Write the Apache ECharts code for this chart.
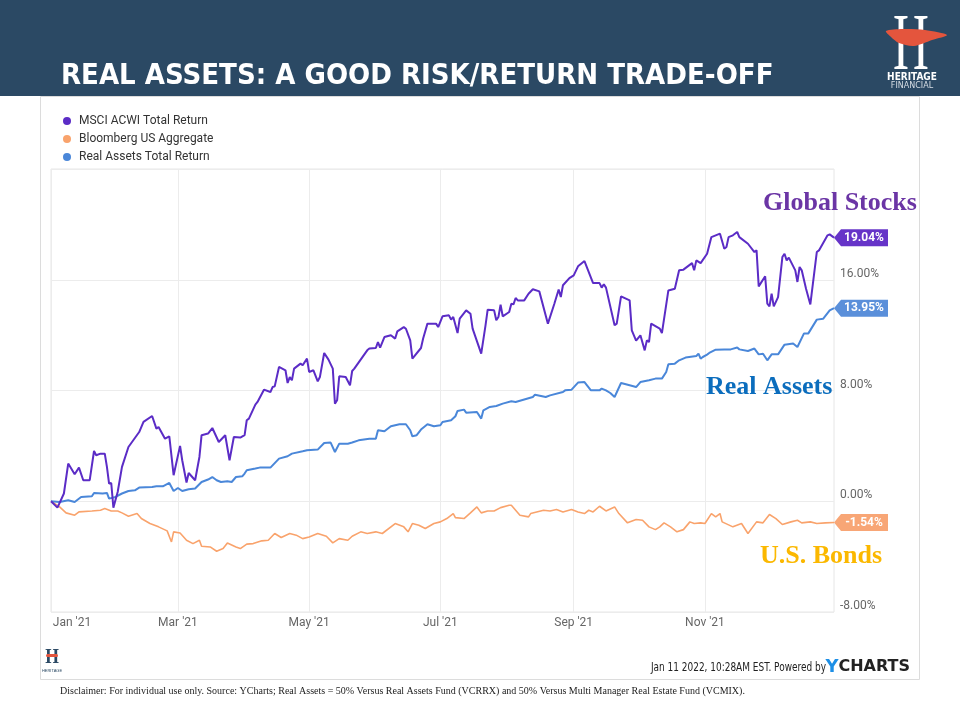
<!DOCTYPE html>
<html><head><meta charset="utf-8">
<script src="https://cdn.jsdelivr.net/npm/echarts@6/dist/echarts.min.js"></script>
<style>html,body{margin:0;padding:0;background:#fff}#c{width:960px;height:720px}</style>
</head><body><div id="c"></div>
<script>
// ---- data (x = days since 2021-01-01, y = cumulative total return %) ----
const seriesNames = ['MSCI ACWI Total Return', 'Bloomberg US Aggregate', 'Real Assets Total Return'];
const xStart = '2021-01-01';
const xEnd = '2021-12-31';
const xTickDates = ['2021-01-01', '2021-03-01', '2021-05-01', '2021-07-01', '2021-09-01', '2021-11-01'];
const xTickLabels = ["Jan '21", "Mar '21", "May '21", "Jul '21", "Sep '21", "Nov '21"];
const yMin = -8, yMax = 24, yStep = 8;

const msciDays = [0,3,6,8,11,13,15,18,20,21,23,25,26,27,28,29,31,33,36,41,43,47,49,50,53,55,57,60,61,63,64,67,69,70,73,75,78,81,83,85,88,90,91,92,95,96,99,102,103,104,106,109,110,111,112,113,116,117,119,120,122,124,125,127,129,131,132,133,134,137,139,140,141,147,148,151,152,153,155,158,160,161,164,165,167,168,172,173,175,179,180,182,185,186,187,189,190,193,195,196,200,202,203,206,207,208,209,210,213,214,215,216,217,220,222,224,227,231,234,236,237,238,241,243,245,248,252,255,256,257,258,262,263,265,269,270,272,274,276,277,278,279,283,284,287,290,292,294,298,299,300,302,305,307,311,313,314,315,317,319,320,324,327,328,329,332,333,334,335,336,338,340,341,342,343,346,347,348,349,351,353,356,357,361,362,364];
const msciValues = [0,-0.46,0.56,2.72,1.95,2.43,1.52,1.52,3.63,3.32,3.44,3.44,2.48,1.28,1.32,-0.46,0.67,2.48,3.92,5.0,5.73,6.16,5.25,5.36,4.52,4.69,1.88,4.0,2.96,1.35,2.04,1.52,3.2,4.77,4.89,5.29,4.28,4.77,2.96,4.64,4.6,4.77,5.85,5.97,6.98,7.17,8.06,7.89,8.25,8.3,9.7,9.46,8.54,8.97,8.74,9.58,9.94,9.82,10.3,9.34,9.46,8.66,8.97,10.71,10.23,9.58,7.05,7.29,9.03,8.97,8.38,9.41,9.58,10.9,11.03,11.07,11.5,11.1,11.86,11.99,11.75,12.27,12.58,12.46,11.62,10.3,11.07,11.75,12.83,12.83,12.58,13.36,13.43,13.12,13.31,12.15,13.19,13.79,13.55,12.47,10.66,12.71,13.84,13.79,13.07,13.31,14.2,13.36,13.67,14.27,14.22,14.68,14.51,14.51,14.99,15.31,15.16,12.83,14.27,15.29,14.75,15.6,16.12,16.32,16.97,17.35,15.76,15.76,15.43,15.67,15.43,12.71,12.83,14.8,14.51,12.35,11.6,11.99,10.9,11.62,11.5,12.83,12.47,12.15,15.23,15.35,16.68,16.73,17.2,16.68,17.4,17.2,17.88,19.08,19.33,18.24,18.36,19.08,19.21,19.45,19.08,18.6,18.0,18.12,15.52,16.25,14.27,14.08,14.99,14.08,14.75,17.64,17.88,17.4,17.6,16.68,15.84,16.92,16.68,15.35,14.22,18.0,18.12,19.21,19.28,19.04];

const bondDays = [0,4,7,11,13,19,23,25,28,31,33,36,40,42,46,50,54,56,57,60,63,66,69,70,74,77,80,82,86,88,91,94,98,101,104,107,111,114,117,120,124,128,131,134,138,140,144,147,151,154,160,164,166,168,171,174,178,181,184,187,188,192,195,198,200,203,206,209,213,214,218,222,223,229,232,235,238,242,245,248,250,252,255,258,262,264,268,272,275,278,281,283,285,288,291,294,297,299,302,304,307,309,311,312,317,321,324,328,331,334,337,340,344,347,349,353,356,360,364];
const bondValues = [0,-0.41,-0.84,-1.01,-0.77,-0.70,-0.65,-0.53,-0.70,-0.70,-0.84,-1.08,-0.89,-1.25,-1.61,-1.85,-2.14,-2.94,-2.21,-2.29,-2.82,-3.06,-2.82,-3.25,-3.30,-3.61,-3.42,-3.01,-3.30,-3.42,-3.10,-3.06,-2.86,-2.82,-2.33,-2.62,-2.33,-2.45,-2.70,-2.58,-2.33,-2.53,-3.01,-2.70,-2.82,-2.53,-2.21,-2.33,-2.21,-2.33,-1.61,-1.85,-2.21,-1.61,-1.73,-1.97,-1.61,-1.49,-1.25,-0.89,-1.18,-1.25,-0.84,-0.41,-0.84,-0.70,-0.70,-0.46,-0.29,-0.29,-1.01,-1.13,-0.89,-0.65,-0.70,-0.60,-0.77,-0.60,-0.77,-0.89,-0.65,-0.77,-0.36,-0.70,-0.41,-0.89,-1.56,-1.32,-1.37,-1.85,-2.05,-1.85,-1.56,-1.85,-2.21,-2.05,-1.49,-1.61,-1.56,-1.61,-0.89,-1.13,-0.89,-1.49,-1.85,-1.61,-2.33,-1.49,-1.56,-0.96,-1.25,-1.68,-1.49,-1.37,-1.56,-1.49,-1.61,-1.56,-1.54];

const realDays = [0,4,8,11,14,19,20,24,26,27,30,33,36,39,41,47,49,52,55,57,59,61,64,67,70,73,75,77,79,82,84,86,89,90,91,95,97,102,106,110,112,117,119,124,127,130,132,134,138,140,143,148,151,152,155,158,162,165,167,168,170,172,175,178,181,182,186,188,189,192,193,198,200,201,204,207,210,214,216,224,225,230,232,238,239,242,245,248,251,255,256,258,260,262,265,269,272,274,278,281,284,286,287,290,292,295,300,301,302,303,305,306,309,313,316,319,320,324,327,329,331,333,335,338,341,345,347,350,352,356,359,362,364];
const realValues = [0,-0.05,0.07,-0.05,0.31,0.36,0.6,0.56,0.6,0.19,0.31,0.56,0.74,0.79,0.99,1.03,1.08,1.08,1.32,0.74,0.96,0.74,0.87,0.92,1.39,1.57,1.75,1.52,1.39,1.44,1.39,1.75,1.81,2.0,2.24,2.36,2.43,2.43,3.08,3.25,3.44,3.61,3.68,3.73,4.21,4.24,3.56,4.16,4.16,4.24,4.4,4.52,4.52,5.13,5.05,5.42,5.56,5.56,5.13,4.69,4.77,5.18,5.56,5.42,5.49,5.73,5.85,6.14,6.52,6.62,6.4,6.45,5.97,6.57,6.81,6.88,7.05,7.22,7.17,7.53,7.7,7.53,7.65,7.89,8.01,8.06,8.57,8.61,8.01,8.01,8.14,8.01,7.82,7.53,8.54,8.38,8.25,8.61,8.74,8.86,8.86,9.34,9.89,9.94,10.18,10.38,10.49,10.66,10.3,10.42,10.59,10.71,10.95,10.97,10.97,11.1,10.97,10.85,11.03,10.61,10.66,10.18,10.61,10.61,11.31,11.39,11.14,12.11,12.11,13.12,13.19,13.79,13.95];

// ---- helpers ----
const DAY = 86400000;
const dayOf = s => Math.round((Date.parse(s) - Date.parse(xStart)) / DAY);
const xTickDays = xTickDates.map(dayOf);
const zip = (xs, ys) => xs.map((x, i) => [x, ys[i]]);

const colors = { msci: '#5b2cc6', bond: '#f9a36c', real: '#4a87d9' };
const tagColors = { msci: '#6634c8', bond: '#f8a676', real: '#5a8fda' };

function tag(days, vals, color) {
  const n = days.length - 1;
  return {
    silent: true,
    symbol: 'path://M0,8.5L7,0L54,0L54,17L7,17Z',
    symbolSize: [54, 17],
    symbolOffset: [27, 0],
    itemStyle: { color: color },
    label: { show: true, color: '#fff', fontSize: 12, fontWeight: 'bold', fontFamily: 'Roboto',
             offset: [3, 0], formatter: p => p.value.toFixed(2) + '%' },
    data: [{ coord: [days[n], vals[n]], value: vals[n] }]
  };
}

function lineSeries(name, days, vals, color, tagColor, width, z) {
  return {
    name, type: 'line', data: zip(days, vals), showSymbol: false, symbol: 'none',
    lineStyle: { color, width }, itemStyle: { color }, z,
    markPoint: tag(days, vals, tagColor)
  };
}

const chart = echarts.init(document.getElementById('c'), null, { renderer: 'canvas' });
chart.setOption({
  animation: false,
  backgroundColor: '#ffffff',
  color: [colors.msci, colors.bond, colors.real],
  legend: {
    orient: 'vertical', left: 58, top: 110, itemGap: 6, icon: 'circle',
    itemWidth: 8, itemHeight: 8, itemTextGap: 4, selectedMode: false,
    textStyle: { color: '#333', fontSize: 12, fontFamily: 'Roboto', padding: [0, 0, 0, 3] },
    data: seriesNames
  },
  grid: { left: 51, right: 126, top: 169, bottom: 108, show: true, borderColor: '#e6e6e6', borderWidth: 1, containLabel: false },
  xAxis: {
    type: 'value', min: dayOf(xStart), max: dayOf(xEnd),
    axisLine: { show: false }, axisTick: { show: false, customValues: xTickDays },
    splitLine: { show: true, lineStyle: { color: '#ececec', width: 1 } },
    axisLabel: {
      customValues: xTickDays, color: '#666', fontSize: 12, fontFamily: 'Roboto', margin: 5,
      formatter: (v) => {
        const i = xTickDays.indexOf(v);
        const t = i >= 0 ? xTickLabels[i] : '';
        return i === 0 ? '{first|' + t + '}' : t;
      },
      rich: { first: { color: '#666', fontSize: 12, fontFamily: 'Roboto', padding: [0, 0, 0, 42] } }
    }
  },
  yAxis: {
    type: 'value', position: 'right', min: yMin, max: yMax, interval: yStep,
    axisLine: { show: false }, axisTick: { show: false },
    splitLine: { show: true, lineStyle: { color: '#ececec', width: 1 } },
    axisLabel: { color: '#666', fontSize: 12, fontFamily: 'Roboto', margin: 6, showMaxLabel: false,
                 verticalAlign: 'bottom', lineHeight: 12, formatter: v => v.toFixed(2) + '%' }
  },
  series: [
    lineSeries(seriesNames[0], msciDays, msciValues, colors.msci, tagColors.msci, 2, 4),
    lineSeries(seriesNames[1], bondDays, bondValues, colors.bond, tagColors.bond, 1.6, 2),
    lineSeries(seriesNames[2], realDays, realValues, colors.real, tagColors.real, 2, 3)
  ],
  graphic: [
    // panel frame
    { type: 'rect', z: -10, silent: true, shape: { x: 40.5, y: 96.5, width: 879, height: 583 }, style: { fill: '#fff', stroke: '#dcdcdc', lineWidth: 1 } },
    // header band
    { type: 'rect', z: 10, silent: true, shape: { x: 0, y: 0, width: 960, height: 96 }, style: { fill: '#2b4964' } },
    { type: 'text', z: 11, silent: true, x: 61, y: 76,
      style: { text: 'REAL ASSETS: A GOOD RISK/RETURN TRADE-OFF', fill: '#ffffff',
               font: 'bold 29px "DejaVu Sans Condensed", "Liberation Sans Narrow", sans-serif',
               textAlign: 'left', textVerticalAlign: 'middle' } },
    // logo
    { type: 'text', z: 11, silent: true, x: 911, y: 8, scaleX: 0.62,
      style: { text: 'H', fill: '#ffffff', font: '80px "Liberation Serif", serif', textAlign: 'center', textVerticalAlign: 'top' } },
    { type: 'polygon', z: 12, silent: true,
      shape: { points: [[886, 31], [903, 29], [925, 30], [947, 35], [932, 40], [914, 46], [899, 43], [891, 37]], smooth: 0.3 },
      style: { fill: '#e4553d' } },
    { type: 'text', z: 11, silent: true, x: 912, y: 77,
      style: { text: 'HERITAGE', fill: '#ffffff', font: 'bold 10px "DejaVu Sans Condensed", sans-serif', textAlign: 'center', textVerticalAlign: 'middle' } },
    { type: 'text', z: 11, silent: true, x: 912, y: 86,
      style: { text: 'FINANCIAL', fill: '#d6dde4', font: '8px "DejaVu Sans", sans-serif', textAlign: 'center', textVerticalAlign: 'middle' } },
    // annotations
    { type: 'text', z: 20, silent: true, x: 763, y: 203,
      style: { text: 'Global Stocks', fill: '#6b35a5', font: 'bold 26px "Liberation Serif", serif', textAlign: 'left', textVerticalAlign: 'middle' } },
    { type: 'text', z: 20, silent: true, x: 706, y: 387,
      style: { text: 'Real Assets', fill: '#0b6dbd', font: 'bold 26px "Liberation Serif", serif', textAlign: 'left', textVerticalAlign: 'middle' } },
    { type: 'text', z: 20, silent: true, x: 760, y: 556,
      style: { text: 'U.S. Bonds', fill: '#fbb800', font: 'bold 26px "Liberation Serif", serif', textAlign: 'left', textVerticalAlign: 'middle' } },
    // footer
    { type: 'text', silent: true, x: 52, y: 657, scaleX: 0.8,
      style: { text: 'H', fill: '#2b4964', font: 'bold 22px "Liberation Serif", serif', textAlign: 'center', textVerticalAlign: 'middle' } },
    { type: 'rect', silent: true, shape: { x: 46, y: 654, width: 12, height: 3, r: 1.5 }, style: { fill: '#e4553d' } },
    { type: 'text', silent: true, x: 52, y: 671,
      style: { text: 'HERITAGE', fill: '#2b4964', font: '4px sans-serif', textAlign: 'center', textVerticalAlign: 'middle' } },
    { type: 'text', silent: true, x: 826, y: 668, scaleX: 0.83,
      style: { text: 'Jan 11 2022, 10:28AM EST. Powered by', fill: '#222', font: '12px "Liberation Sans Narrow", "DejaVu Sans Condensed", sans-serif', textAlign: 'right', textVerticalAlign: 'middle' } },
    { type: 'text', silent: true, x: 910, y: 667,
      style: { text: '{y|Y}{c|CHARTS}', textAlign: 'right', textVerticalAlign: 'middle',
               rich: { y: { fill: '#1d8fe6', font: 'bold 18px "DejaVu Sans", sans-serif' },
                       c: { fill: '#222', font: 'bold 16px "DejaVu Sans", sans-serif' } } } },
    // disclaimer
    { type: 'text', silent: true, x: 60, y: 691,
      style: { text: 'Disclaimer: For individual use only. Source: YCharts; Real Assets = 50% Versus Real Assets Fund (VCRRX) and 50% Versus Multi Manager Real Estate Fund (VCMIX).',
               fill: '#222', font: '10px "Liberation Serif", serif', textAlign: 'left', textVerticalAlign: 'middle' } }
  ]
});
</script>
</body></html>
